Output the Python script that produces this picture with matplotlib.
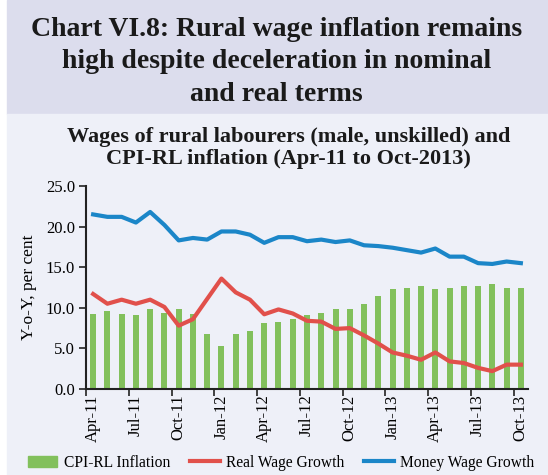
import matplotlib
matplotlib.use("Agg")
import matplotlib.pyplot as plt
import numpy as np
from matplotlib.patches import Rectangle
from matplotlib.lines import Line2D
from matplotlib.patches import Patch

# data, Apr-11 .. Oct-13 (31 months)
months = [
    "Apr-11", "May-11", "Jun-11", "Jul-11", "Aug-11", "Sep-11", "Oct-11", "Nov-11", "Dec-11",
    "Jan-12", "Feb-12", "Mar-12", "Apr-12", "May-12", "Jun-12", "Jul-12", "Aug-12", "Sep-12",
    "Oct-12", "Nov-12", "Dec-12", "Jan-13", "Feb-13", "Mar-13", "Apr-13", "May-13", "Jun-13",
    "Jul-13", "Aug-13", "Sep-13", "Oct-13",
]
cpi_rl = [
    9.2, 9.6, 9.2, 9.1, 9.8, 9.4, 9.8, 9.2, 6.8,
    5.3, 6.8, 7.2, 8.1, 8.2, 8.6, 9.1, 9.3, 9.9,
    9.9, 10.5, 11.4, 12.3, 12.5, 12.7, 12.3, 12.5, 12.7,
    12.7, 12.9, 12.5, 12.5,
]
real_wage = [
    11.7, 10.5, 11.0, 10.5, 11.0, 10.1, 7.8, 8.6, 11.1,
    13.6, 11.9, 11.0, 9.2, 9.8, 9.3, 8.4, 8.3, 7.4,
    7.5, 6.6, 5.6, 4.5, 4.1, 3.6, 4.5, 3.4, 3.2,
    2.6, 2.2, 3.0, 3.0,
]
money_wage = [
    21.5, 21.2, 21.2, 20.5, 21.8, 20.2, 18.3, 18.6, 18.4,
    19.4, 19.4, 19.0, 18.0, 18.7, 18.7, 18.2, 18.4, 18.1,
    18.3, 17.7, 17.6, 17.4, 17.1, 16.8, 17.3, 16.3, 16.3,
    15.5, 15.4, 15.7, 15.5,
]
label_months = months[::3]
yticks = [0, 5, 10, 15, 20, 25]

SERIF = "Liberation Serif"
GREEN = "#82c05c"
RED = "#e1504b"
BLUE = "#1b86c8"
HEADER_BG = "#dcdded"
PANEL_BG = "#eef0f8"

plt.rcParams["font.family"] = SERIF

fig = plt.figure(figsize=(5.48, 4.75), dpi=100)
fig.patch.set_facecolor("white")
# background bands
fig.patches.append(Rectangle((7 / 548, 1 - 114 / 475), 1, 114 / 475,
                             transform=fig.transFigure, color=HEADER_BG, zorder=-10))
fig.patches.append(Rectangle((7 / 548, 0), 1, 1 - 114 / 475,
                             transform=fig.transFigure, color=PANEL_BG, zorder=-10))

fig.text(0.505, 1 - 62 / 475,
         "Chart VI.8: Rural wage inflation remains\nhigh despite deceleration in nominal\nand real terms",
         ha="center", va="center", fontsize=20, fontweight="bold", color="#1a1a1a",
         linespacing=1.37)
fig.text(0.526, 1 - 148 / 475,
         "Wages of rural labourers (male, unskilled) and\nCPI-RL inflation (Apr-11 to Oct-2013)",
         ha="center", va="center", fontsize=16, fontweight="bold", color="#1a1a1a",
         linespacing=1.1)

ax = fig.add_axes([86 / 548, 1 - 389 / 475, (528 - 86) / 548, (389 - 186) / 475])
ax.set_facecolor("none")
x = np.arange(len(months))
ax.bar(x, cpi_rl, width=0.42, color=GREEN, zorder=2)
ax.plot(x, real_wage, color=RED, lw=3, zorder=3)
ax.plot(x, money_wage, color=BLUE, lw=3, zorder=3)

ax.set_xlim(-0.5, 30.5)
ax.set_ylim(0, 25)
ax.set_yticks(yticks)
ax.set_yticklabels([f"{v:.1f}" for v in yticks], fontsize=12)
ax.set_xticks(np.arange(0, 31, 3) - 0.5)
ax.set_xticklabels([])
ax.set_xticks(np.arange(0, 31, 3), minor=True)
ax.set_xticklabels(label_months, minor=True, rotation=90, fontsize=12)
ax.tick_params(axis="x", which="minor", length=0, pad=4)
ax.tick_params(axis="both", which="major", direction="out", length=5, width=1.2, color="#222222")
ax.tick_params(axis="y", pad=3)
for side in ("top", "right"):
    ax.spines[side].set_visible(False)
for side in ("left", "bottom"):
    ax.spines[side].set_linewidth(1.5)
    ax.spines[side].set_color("#222222")
ax.set_ylabel("Y-o-Y, per cent", fontsize=12.5, labelpad=6)

handles = [
    Patch(color=GREEN),
    Line2D([], [], color=RED, lw=3),
    Line2D([], [], color=BLUE, lw=3),
]
labels = ["CPI-RL Inflation", "Real Wage Growth", "Money Wage Growth"]
fig.legend(handles, labels, loc="center", bbox_to_anchor=(0.513, 1 - 463 / 475), ncol=3,
           frameon=False, fontsize=11.2, handlelength=1.9, handleheight=0.75,
           columnspacing=1.3, handletextpad=0.4)

fig.savefig("out.png", dpi=100)
